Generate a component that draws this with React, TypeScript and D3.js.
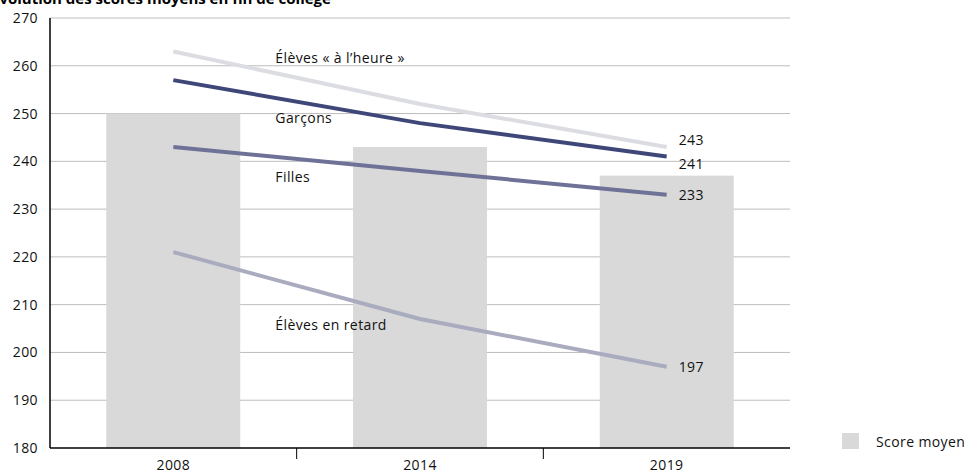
import React from "react";
import * as d3 from "d3";

const years = ["2008", "2014", "2019"];
const scoreMoyen = [250, 243, 237];
const seriesNames = ["Élèves « à l’heure »", "Garçons", "Filles", "Élèves en retard"];
const aLHeure = [263, 252, 243];
const garcons = [257, 248, 241];
const filles = [243, 238, 233];
const enRetard = [221, 207, 197];
const yTicks = [180, 190, 200, 210, 220, 230, 240, 250, 260, 270];

const seriesColors = ["#dcdde3", "#3e4778", "#6f7297", "#a9abbf"];
const seriesValues = [aLHeure, garcons, filles, enRetard];

const W = 973;
const H = 473;
const margin = { top: 18, right: 183, bottom: 25, left: 50 };
const FONT = "'Open Sans', 'Noto Sans', sans-serif";
const FS = 14;
const LS = 0.4;

export default function App() {
  const w = W - margin.left - margin.right;
  const h = H - margin.top - margin.bottom;

  const x = d3.scaleBand().domain(years).range([0, w]);
  const xBar = d3.scaleBand().domain(years).range([0, w]).paddingInner(0.457).paddingOuter(0.228);
  const y = d3.scaleLinear().domain([180, 270]).range([h, 0]);
  const cx = (yr: string) => (x(yr) ?? 0) + x.bandwidth() / 2;

  const line = d3
    .line<number>()
    .x((_, i) => cx(years[i]))
    .y((d) => y(d));

  // label positions near each line (label text sits below its line)
  const labelX = cx(years[0]) + 102;
  const labelY = [63, 123, 182, 330];

  return (
    <svg width={W} height={H} style={{ position: "absolute", left: 0, top: 0 }}>
      <text x={-9} y={4} fontFamily={FONT} fontWeight="bold" fontSize={15} fill="#000">
        Évolution des scores moyens en fin de collège
      </text>
      <g transform={`translate(${margin.left},${margin.top})`}>
        {/* grid */}
        {yTicks.slice(1).map((t) => (
          <line key={t} x1={0} x2={w} y1={y(t)} y2={y(t)} stroke="#bdbdbd" strokeWidth={1} />
        ))}
        {/* bars */}
        {years.map((yr, i) => (
          <rect
            key={yr}
            x={xBar(yr)}
            y={y(scoreMoyen[i])}
            width={xBar.bandwidth()}
            height={h - y(scoreMoyen[i])}
            fill="#d9d9d9"
          />
        ))}
        {/* lines */}
        {seriesValues.map((vals, s) => (
          <path key={s} d={line(vals) ?? ""} fill="none" stroke={seriesColors[s]} strokeWidth={4} />
        ))}
        {/* series labels */}
        {seriesNames.map((n, s) => (
          <text key={n} x={labelX} y={labelY[s] - margin.top} fontFamily={FONT} fontSize={FS} letterSpacing={LS} fill="#111">
            {n}
          </text>
        ))}
        {/* end labels */}
        {seriesValues.map((vals, s) => {
          const v = vals[vals.length - 1];
          const dy = s === 0 ? -2 : s === 1 ? 12 : 5;
          return (
            <text
              key={s}
              x={cx(years[years.length - 1]) + 12}
              y={y(v) + dy}
              fontFamily={FONT}
              fontSize={FS}
              letterSpacing={LS}
              fill="#111"
            >
              {v}
            </text>
          );
        })}
        {/* y axis */}
        <line x1={0} x2={0} y1={0} y2={h} stroke="#000" strokeWidth={1.5} />
        {yTicks.map((t) => (
          <text
            key={t}
            x={-12}
            y={y(t) + 5}
            textAnchor="end"
            fontFamily={FONT}
            fontSize={FS}
            letterSpacing={LS}
            fill="#111"
          >
            {t}
          </text>
        ))}
        {/* x axis */}
        <line x1={0} x2={w} y1={h} y2={h} stroke="#000" strokeWidth={1.5} />
        {years.slice(1).map((yr) => (
          <line key={yr} x1={x(yr)} x2={x(yr)} y1={h} y2={h + 11} stroke="#000" strokeWidth={1} />
        ))}
        {years.map((yr) => (
          <text
            key={yr}
            x={cx(yr)}
            y={h + 22}
            textAnchor="middle"
            fontFamily={FONT}
            fontSize={FS}
            letterSpacing={LS}
            fill="#111"
          >
            {yr}
          </text>
        ))}
      </g>
      {/* legend */}
      <rect x={842} y={433} width={17} height={16} fill="#d9d9d9" />
      <text x={876} y={447} fontFamily={FONT} fontSize={FS} letterSpacing={LS} fill="#111">
        Score moyen
      </text>
    </svg>
  );
}
